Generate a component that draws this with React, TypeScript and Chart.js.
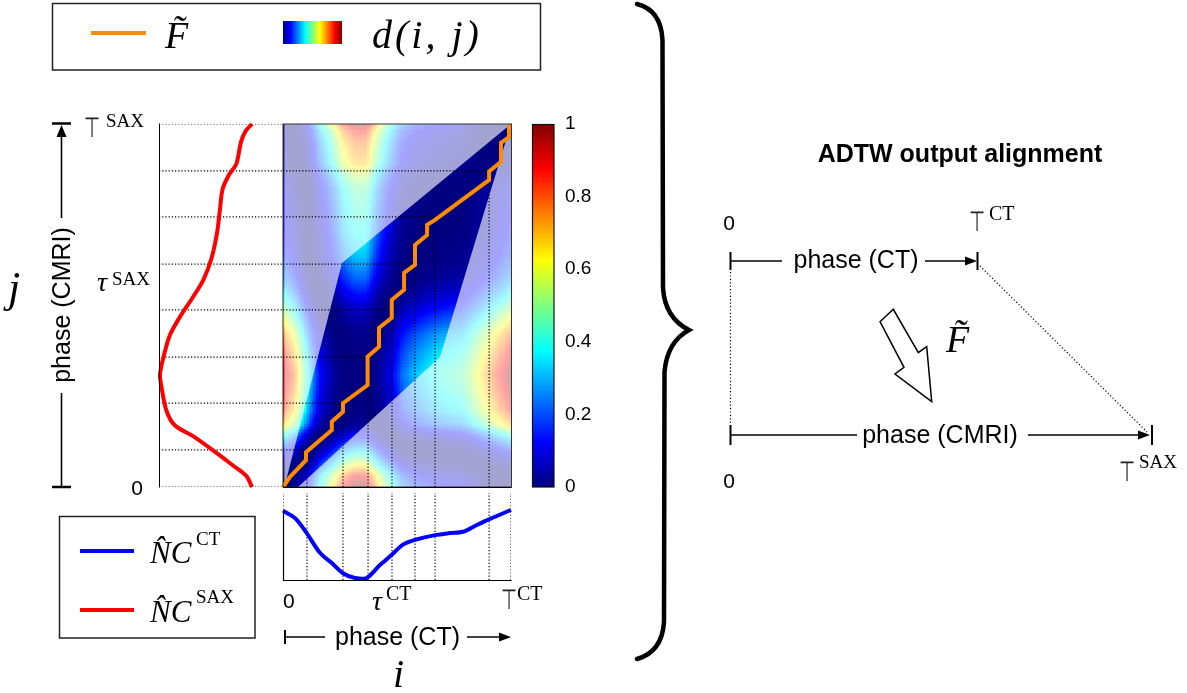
import React, { useEffect, useRef } from 'react';
import { Chart, registerables } from 'chart.js';

Chart.register(...registerables);

const SANS = '"Liberation Sans", Arial, Helvetica, sans-serif';
const SERIF = '"Liberation Serif", "DejaVu Serif", serif';
const SYM = '"DejaVu Sans", sans-serif';

// ---- Normalised curves ----
// NC^CT : blue curve, phase i in [0,1]
const ctPhase = [0, 0.053, 0.104, 0.162, 0.214, 0.263, 0.316, 0.367, 0.425, 0.477, 0.526, 0.579, 0.667, 0.732, 0.789, 0.85, 0.908, 1];
const ctValue = [0.99, 0.88, 0.66, 0.37, 0.22, 0.07, 0.0, 0.0, 0.19, 0.34, 0.49, 0.56, 0.63, 0.66, 0.68, 0.78, 0.87, 1.0];
// NC^SAX : red curve, phase j in [0,1]
const saxPhase = [0, 0.03, 0.06, 0.1, 0.14, 0.17, 0.21, 0.27, 0.31, 0.37, 0.42, 0.47, 0.52, 0.57, 0.63, 0.7, 0.76, 0.82, 0.86, 0.89, 0.95, 0.98, 1.0];
const saxValue = [1.0, 0.94, 0.79, 0.58, 0.36, 0.16, 0.07, 0.02, 0.0, 0.05, 0.11, 0.22, 0.35, 0.47, 0.56, 0.62, 0.65, 0.68, 0.75, 0.83, 0.88, 0.93, 1.0];

// ---- Warping path F~ ----
const pathCT = [0, 0.031, 0.101, 0.101, 0.214, 0.214, 0.263, 0.263, 0.371, 0.371, 0.421, 0.421, 0.477, 0.477, 0.531, 0.531, 0.579, 0.579, 0.632, 0.632, 0.667, 0.904, 0.904, 0.956, 0.956, 0.991, 0.991];
const pathSAX = [0, 0.028, 0.074, 0.096, 0.157, 0.18, 0.207, 0.231, 0.281, 0.359, 0.386, 0.438, 0.466, 0.515, 0.543, 0.59, 0.612, 0.667, 0.694, 0.722, 0.736, 0.846, 0.869, 0.896, 0.948, 0.964, 0.997];

// ---- Correspondence (dotted guide) points ----
const alignCT = [0, 0.105, 0.263, 0.373, 0.478, 0.579, 0.667, 0.904, 1];
const alignSAX = [0, 0.102, 0.231, 0.358, 0.488, 0.614, 0.744, 0.871, 1];

// ---- Masked domains (polygons in phase units) ----
const maskUpperCT = [0.006, 0.006, 1, 0.259, 0.006];
const maskUpperSAX = [0, 1, 1, 0.617, 0];
const maskLowerCT = [0.066, 1, 1, 0.689, 0.066];
const maskLowerSAX = [0, 0, 1, 0.358, 0];

// ---- Colour bar ----
const colorbarTicks = [0, 0.2, 0.4, 0.6, 0.8, 1];
const colorbarLabels = ['0', '0.2', '0.4', '0.6', '0.8', '1'];
const jetStops = [0, 0.125, 0.375, 0.625, 0.875, 1];

const NI = 76;
const NJ = 121;

function interp(xs: number[], ys: number[], x: number) {
  if (x <= xs[0]) return ys[0];
  for (let k = 1; k < xs.length; k++) {
    if (x <= xs[k]) {
      const t = (x - xs[k - 1]) / (xs[k] - xs[k - 1]);
      return ys[k - 1] + t * (ys[k] - ys[k - 1]);
    }
  }
  return ys[ys.length - 1];
}

function jet(v: number) {
  const c = (x: number) => Math.round(255 * Math.max(0, Math.min(1, x)));
  return `rgb(${c(1.5 - Math.abs(4 * v - 3))},${c(1.5 - Math.abs(4 * v - 2))},${c(1.5 - Math.abs(4 * v - 1))})`;
}

const zip = (xs: number[], ys: number[]) => xs.map((x, k) => ({ x, y: ys[k] }));

function baseOptions(pad: any, xs: any, ys: any) {
  return {
    animation: false,
    responsive: false,
    maintainAspectRatio: false,
    events: [],
    layout: { padding: pad },
    plugins: { legend: { display: false }, tooltip: { enabled: false } },
    scales: {
      x: { type: 'linear', display: false, offset: false, ...xs },
      y: { type: 'linear', display: false, ...ys },
    },
  };
}

const dotted = (pts: any[], order = 3) => ({
  type: 'line',
  data: pts,
  borderColor: '#000',
  borderWidth: 1.2,
  borderDash: [1.2, 2],
  pointRadius: 0,
  fill: false,
  tension: 0,
  order,
});

function makeHeatmap() {
  const cellI = Array.from({ length: NI }, (_, c) => (c + 0.5) / NI);
  const cellJ = Array.from({ length: NJ }, (_, r) => (r + 0.5) / NJ);
  const ctAt = cellI.map((i) => interp(ctPhase, ctValue, i));
  const rows = cellJ.map((j, r) => {
    const s = interp(saxPhase, saxValue, j);
    return {
      type: 'bar',
      data: cellI.map((i) => ({ x: i, y: [r / NJ, (r + 1) / NJ] })),
      backgroundColor: ctAt.map((cv) => jet((cv - s) * (cv - s))),
      borderWidth: 0,
      barPercentage: 1,
      categoryPercentage: 1,
      grouped: false,
      order: 10,
    };
  });
  const mask = (xs: number[], ys: number[]) => ({
    type: 'line',
    data: zip(xs, ys),
    borderWidth: 0,
    borderColor: 'rgba(0,0,0,0)',
    backgroundColor: 'rgba(255,255,255,0.64)',
    pointRadius: 0,
    fill: 'shape',
    tension: 0,
    order: 5,
  });
  const guides: any[] = [];
  for (let k = 1; k < alignCT.length - 1; k++) {
    guides.push(dotted([{ x: 0, y: alignSAX[k] }, { x: alignCT[k], y: alignSAX[k] }]));
    guides.push(dotted([{ x: alignCT[k], y: 0 }, { x: alignCT[k], y: alignSAX[k] }]));
  }
  const path = {
    type: 'line',
    data: zip(pathCT, pathSAX),
    borderColor: 'rgb(255,140,0)',
    borderWidth: 4,
    pointRadius: 0,
    fill: false,
    tension: 0,
    clip: 6,
    order: 1,
  };
  return {
    type: 'bar',
    data: { datasets: [...rows, mask(maskUpperCT, maskUpperSAX), mask(maskLowerCT, maskLowerSAX), ...guides, path] },
    options: baseOptions(8, { min: 0, max: 1 }, { min: 0, max: 1 }),
  };
}

function makeRed() {
  const xmin = -0.011;
  const xmax = 1.337;
  const guides = alignSAX.map((j) => dotted([{ x: xmin, y: j }, { x: xmax, y: j }]));
  return {
    type: 'line',
    data: {
      datasets: [
        {
          data: zip(saxValue, saxPhase),
          borderColor: 'rgb(255,0,0)',
          borderWidth: 4,
          pointRadius: 0,
          fill: false,
          tension: 0.3,
          clip: false,
          order: 1,
        },
        ...guides,
      ],
    },
    options: baseOptions(8, { min: xmin, max: xmax }, { min: 0, max: 1 }),
  };
}

function makeBlue() {
  const ymin = -0.03;
  const ymax = 1.25;
  const guides = alignCT.map((i) => dotted([{ x: i, y: ymin }, { x: i, y: ymax }]));
  return {
    type: 'line',
    data: {
      datasets: [
        {
          data: zip(ctPhase, ctValue),
          borderColor: 'rgb(0,0,255)',
          borderWidth: 4,
          pointRadius: 0,
          fill: false,
          tension: 0.3,
          clip: false,
          order: 1,
        },
        ...guides,
      ],
    },
    options: baseOptions(8, { min: 0, max: 1 }, { min: ymin, max: ymax }),
  };
}

function makeColorbar() {
  return {
    type: 'bar',
    data: {
      labels: ['d'],
      datasets: [
        {
          data: [[0, 1]],
          backgroundColor: (ctx: any) => {
            const { chart } = ctx;
            const area = chart.chartArea;
            if (!area) return 'rgb(0,0,128)';
            const g = chart.ctx.createLinearGradient(0, area.bottom, 0, area.top);
            jetStops.forEach((s) => g.addColorStop(s, jet(s)));
            return g;
          },
          borderWidth: 0,
          barPercentage: 1,
          categoryPercentage: 1,
        },
      ],
    },
    options: {
      animation: false,
      responsive: false,
      maintainAspectRatio: false,
      events: [],
      layout: { padding: 16 },
      plugins: { legend: { display: false }, tooltip: { enabled: false } },
      scales: {
        x: { type: 'category', display: false, offset: true },
        y: {
          type: 'linear',
          position: 'right',
          min: 0,
          max: 1,
          afterFit: (s: any) => {
            s.width = 50;
            s.paddingTop = 0;
            s.paddingBottom = 0;
          },
          afterBuildTicks: (s: any) => {
            s.ticks = colorbarTicks.map((v) => ({ value: v }));
          },
          grid: { display: false, drawTicks: false },
          border: { display: false },
          ticks: {
            padding: 11,
            color: '#000',
            font: { family: SANS, size: 19 },
            callback: (_v: any, i: number) => colorbarLabels[i],
          },
        },
      },
    },
  };
}

function ChartBox({ x, y, w, h, pad = 8, extraRight = 0, make }: any) {
  const ref = useRef<HTMLCanvasElement | null>(null);
  useEffect(() => {
    if (!ref.current) return;
    const chart = new Chart(ref.current, make());
    return () => chart.destroy();
  }, []);
  const cw = w + 2 * pad + extraRight;
  const ch = h + 2 * pad;
  return (
    <canvas
      ref={ref}
      width={cw}
      height={ch}
      style={{ position: 'absolute', left: x - pad, top: y - pad, width: cw, height: ch }}
    />
  );
}

function Txt({ x, y, size, font = SANS, italic = false, bold = false, anchor = 'start', children, style = {} }: any) {
  const k = font === SERIF ? 0.8375 : 0.8465;
  const tx = anchor === 'middle' ? '-50%' : anchor === 'end' ? '-100%' : '0';
  return (
    <div
      style={{
        position: 'absolute',
        left: x,
        top: y - k * size,
        fontSize: size,
        lineHeight: `${size}px`,
        fontFamily: font,
        fontStyle: italic ? 'italic' : 'normal',
        fontWeight: bold ? 700 : 400,
        whiteSpace: 'nowrap',
        transform: `translateX(${tx})`,
        color: '#000',
        ...style,
      }}
    >
      {children}
    </div>
  );
}

function TopSym({ x, y }: any) {
  const size = 28;
  return (
    <div
      style={{
        position: 'absolute',
        left: x,
        top: y - 0.846 * size,
        fontFamily: SYM,
        fontSize: size,
        lineHeight: `${size}px`,
        fontWeight: 200,
        transform: 'scaleX(0.66)',
        transformOrigin: '0 0',
        color: '#222',
        whiteSpace: 'nowrap',
      }}
    >
      ⊤
    </div>
  );
}

export default function App() {
  const stroke = '#000';
  return (
    <div style={{ position: 'absolute', left: 0, top: 0, width: 1187, height: 693, background: '#fff', overflow: 'hidden' }}>
      <ChartBox x={283} y={124} w={228} h={363} make={makeHeatmap} />
      <ChartBox x={159} y={124} w={124} h={363} make={makeRed} />
      <ChartBox x={283} y={493} w={228} h={87} make={makeBlue} />
      <ChartBox x={532} y={124} w={22} h={363} pad={16} extraRight={50} make={makeColorbar} />

      <svg width={1187} height={693} style={{ position: 'absolute', left: 0, top: 0, pointerEvents: 'none' }}>
        <defs>
          <linearGradient id="jetH" x1="0" x2="1" y1="0" y2="0">
            {jetStops.map((s) => (
              <stop key={s} offset={s} stopColor={jet(s)} />
            ))}
          </linearGradient>
        </defs>
        {/* top legend */}
        <rect x={52.5} y={3.5} width={488} height={66.5} fill="none" stroke="#222" strokeWidth={1.5} />
        <line x1={91} y1={33} x2={146} y2={33} stroke="rgb(255,140,0)" strokeWidth={4} />
        <rect x={283} y={21} width={59} height={23} fill="url(#jetH)" />
        {/* bottom legend */}
        <rect x={59.5} y={516.5} width={195.5} height={121.5} fill="none" stroke="#222" strokeWidth={1.5} />
        <line x1={80} y1={551} x2={134} y2={551} stroke="rgb(0,0,255)" strokeWidth={4} />
        <line x1={80} y1={610} x2={134} y2={610} stroke="rgb(255,0,0)" strokeWidth={4} />
        {/* left vertical arrow */}
        <line x1={52} y1={123.5} x2={71} y2={123.5} stroke={stroke} strokeWidth={2.5} />
        <polygon points="61.5,125 56.5,137 66.5,137" fill={stroke} />
        <line x1={61.5} y1={135} x2={61.5} y2={218} stroke={stroke} strokeWidth={1.6} />
        <line x1={61.5} y1={393} x2={61.5} y2={487} stroke={stroke} strokeWidth={1.6} />
        <line x1={52} y1={487} x2={71} y2={487} stroke={stroke} strokeWidth={2.5} />
        {/* red panel axis */}
        <line x1={159.5} y1={123.5} x2={159.5} y2={487.5} stroke={stroke} strokeWidth={1} />
        {/* heatmap frame */}
        <rect x={283} y={124} width={228.5} height={363} fill="none" stroke="#333" strokeWidth={1} />
        <line x1={283} y1={487.5} x2={511.5} y2={487.5} stroke={stroke} strokeWidth={1} />
        {/* colorbar frame */}
        <rect x={532.5} y={124.5} width={21.5} height={362.5} fill="none" stroke="#111" strokeWidth={1.2} />
        {/* blue panel axes */}
        <line x1={283} y1={580.5} x2={511.5} y2={580.5} stroke={stroke} strokeWidth={1.2} />
        <line x1={283.5} y1={510} x2={283.5} y2={580.5} stroke={stroke} strokeWidth={1.2} />
        {/* CT arrow (bottom) */}
        <line x1={285} y1={630} x2={285} y2={644} stroke={stroke} strokeWidth={2} />
        <line x1={285} y1={637} x2={325} y2={637} stroke={stroke} strokeWidth={1.6} />
        <line x1={467} y1={637} x2={503} y2={637} stroke={stroke} strokeWidth={1.6} />
        <polygon points="511,637 499,632.5 499,641.5" fill={stroke} />
        {/* brace */}
        <path
          d="M 637 4 Q 661 10 662.5 40 L 663 288 Q 665 318 689 330 Q 667 342 664.5 372 L 664 622 Q 662 652 637 659"
          fill="none"
          stroke={stroke}
          strokeWidth={4.5}
          strokeLinecap="round"
          strokeLinejoin="miter"
        />
        {/* right diagram: top arrow */}
        <line x1={730.5} y1={252} x2={730.5} y2={270} stroke={stroke} strokeWidth={2} />
        <line x1={730} y1={261} x2={782} y2={261} stroke={stroke} strokeWidth={1.6} />
        <line x1={925} y1={261} x2={968} y2={261} stroke={stroke} strokeWidth={1.6} />
        <polygon points="977,261 965,256.5 965,265.5" fill={stroke} />
        <line x1={977.5} y1={252} x2={977.5} y2={270} stroke={stroke} strokeWidth={2} />
        {/* right diagram: bottom arrow */}
        <line x1={730.5} y1={425} x2={730.5} y2={445} stroke={stroke} strokeWidth={2} />
        <line x1={730} y1={435} x2={857} y2={435} stroke={stroke} strokeWidth={1.6} />
        <line x1={1028} y1={435} x2={1141} y2={435} stroke={stroke} strokeWidth={1.6} />
        <polygon points="1150,435 1138,430.5 1138,439.5" fill={stroke} />
        <line x1={1152} y1={425} x2={1152} y2={445} stroke={stroke} strokeWidth={2} />
        {/* dotted guides */}
        <line x1={730.5} y1={272} x2={730.5} y2={425} stroke={stroke} strokeWidth={1.2} strokeDasharray="1.2 2.2" />
        <line x1={980} y1={266} x2={1147} y2={432} stroke={stroke} strokeWidth={1.2} strokeDasharray="1.2 2.2" />
        {/* hollow arrow */}
        <polygon
          points="880,321.7 893.3,309.3 918.3,352.7 926.7,346.7 931.7,401.7 895,374 904,367.3"
          fill="#fff"
          stroke={stroke}
          strokeWidth={1.5}
        />
      </svg>

      {/* top legend text */}
      <Txt x={165} y={48} size={38} font={SERIF} italic>F̃</Txt>
      <Txt x={372} y={48} size={40} font={SERIF} italic style={{ letterSpacing: '3px' }}>d(i, j)</Txt>

      {/* left axis labels */}
      <TopSym x={84} y={138} />
      <Txt x={106} y={127} size={19} font={SERIF}>SAX</Txt>
      <Txt x={97} y={291} size={28} font={SERIF} italic>τ</Txt>
      <Txt x={112} y={285} size={19} font={SERIF}>SAX</Txt>
      <Txt x={143} y={495} size={21} anchor="end">0</Txt>
      <Txt x={8} y={303} size={44} font={SERIF} italic>j</Txt>
      <div
        style={{
          position: 'absolute',
          left: 61,
          top: 305,
          transform: 'translate(-50%,-50%) rotate(-90deg)',
          fontFamily: SANS,
          fontSize: 25,
          lineHeight: '25px',
          whiteSpace: 'nowrap',
          color: '#000',
        }}
      >
        phase (CMRI)
      </div>

      {/* bottom axis labels */}
      <Txt x={283} y={608} size={21}>0</Txt>
      <Txt x={372} y={610} size={28} font={SERIF} italic>τ</Txt>
      <Txt x={386} y={600} size={20} font={SERIF}>CT</Txt>
      <TopSym x={501} y={610} />
      <Txt x={517} y={600} size={20} font={SERIF}>CT</Txt>
      <Txt x={397.5} y={645} size={25} anchor="middle">phase (CT)</Txt>
      <Txt x={393} y={687} size={40} font={SERIF} italic>i</Txt>

      {/* bottom legend text */}
      <Txt x={150} y={563} size={31} font={SERIF} italic>N̂C</Txt>
      <Txt x={196} y={545} size={19} font={SERIF}>CT</Txt>
      <Txt x={150} y={622} size={31} font={SERIF} italic>N̂C</Txt>
      <Txt x={196} y={603} size={19} font={SERIF}>SAX</Txt>

      {/* right diagram */}
      <Txt x={960} y={162} size={25} bold anchor="middle">ADTW output alignment</Txt>
      <Txt x={729} y={230} size={21} anchor="middle">0</Txt>
      <TopSym x={969} y={232} />
      <Txt x={989} y={220} size={20} font={SERIF}>CT</Txt>
      <Txt x={856} y={268} size={25} anchor="middle">phase (CT)</Txt>
      <Txt x={946} y={352} size={38} font={SERIF} italic>F̃</Txt>
      <Txt x={940} y={443} size={25} anchor="middle">phase (CMRI)</Txt>
      <Txt x={729} y={488} size={21} anchor="middle">0</Txt>
      <TopSym x={1119} y={482} />
      <Txt x={1139} y={468} size={19} font={SERIF}>SAX</Txt>
    </div>
  );
}
